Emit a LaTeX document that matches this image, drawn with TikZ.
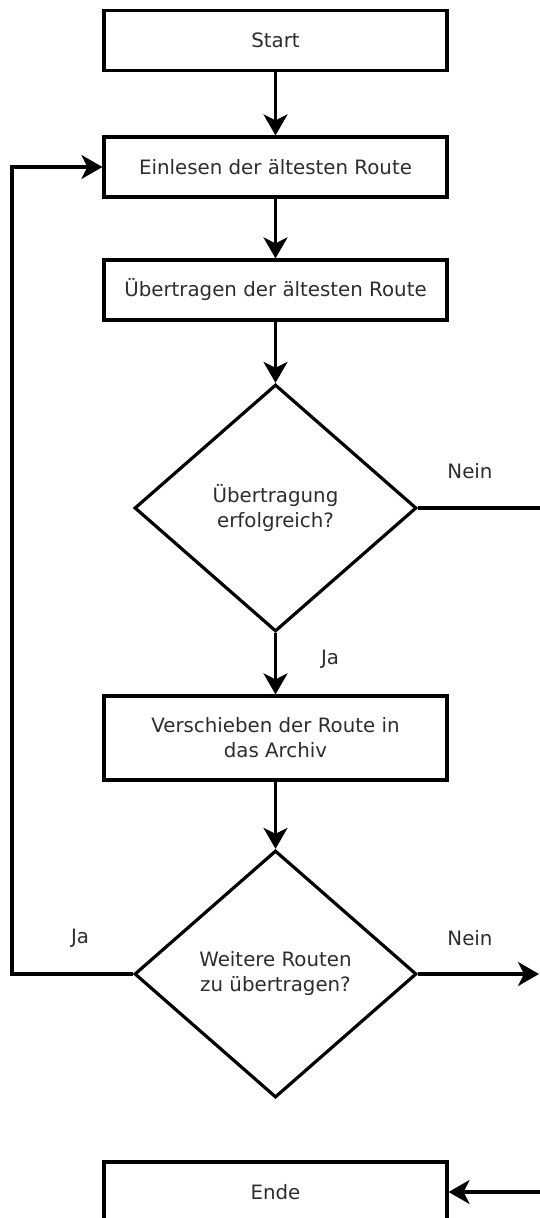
\documentclass[tikz,border=0pt]{standalone}
\usepackage{fontspec}
\setmainfont{DejaVu Sans}
\usetikzlibrary{shapes.geometric,arrows.meta}
\definecolor{textgray}{RGB}{45,45,45}
\begin{document}
\begin{tikzpicture}[x=1pt,y=-1pt,
  every node/.style={text=textgray,font=\fontsize{19.8}{25}\selectfont},
  stepbox/.style={draw=black,line width=3.2pt,minimum width=343pt,minimum height=60pt,inner sep=0pt,align=center},
  decision/.style={draw=black,line width=3.2pt,diamond,aspect=1.14,minimum width=282pt,minimum height=247pt,inner sep=0pt,align=center},
  conn/.style={line width=3.2pt,-{Stealth[length=21pt,width=24pt,inset=6pt]}},
  plain/.style={line width=3.2pt}]
\useasboundingbox (0,0) rectangle (539,1218);
\node[stepbox] (start) at (275.5,40.5) {Start};
\node[stepbox] (read) at (275.5,167) {Einlesen der ältesten Route};
\node[stepbox] (send) at (275.5,290) {Übertragen der ältesten Route};
\node[decision] (ok) at (275.5,508) {Übertragung\\erfolgreich?};
\node[stepbox,minimum height=84pt] (move) at (275.5,738) {Verschieben der Route in\\das Archiv};
\node[decision] (more) at (275.5,974) {Weitere Routen\\zu übertragen?};
\node[stepbox] (end) at (275.5,1192) {Ende};
\coordinate (okout) at (545,508);
\coordinate (moreout) at (539,974);
\coordinate (endin) at (545,1192);
\coordinate (loopb) at (12,974);
\coordinate (loopt) at (12,167);
\draw[conn] (start) -- (read);
\draw[conn] (read) -- (send);
\draw[conn] (send) -- (ok);
\draw[conn] (ok) -- (move);
\draw[conn] (move) -- (more);
\draw[plain] (ok.east) -- (okout);
\draw[conn] (more.east) -- (moreout);
\draw[conn] (endin) -- (end.east);
\draw[conn] (more.west) -- (loopb) -- (loopt) -- (read.west);
\node (l1) at (470,471) {Nein};
\node (l2) at (330,659) {Ja};
\node (l3) at (80,938) {Ja};
\node (l4) at (470,938) {Nein};
\end{tikzpicture}
\end{document}
